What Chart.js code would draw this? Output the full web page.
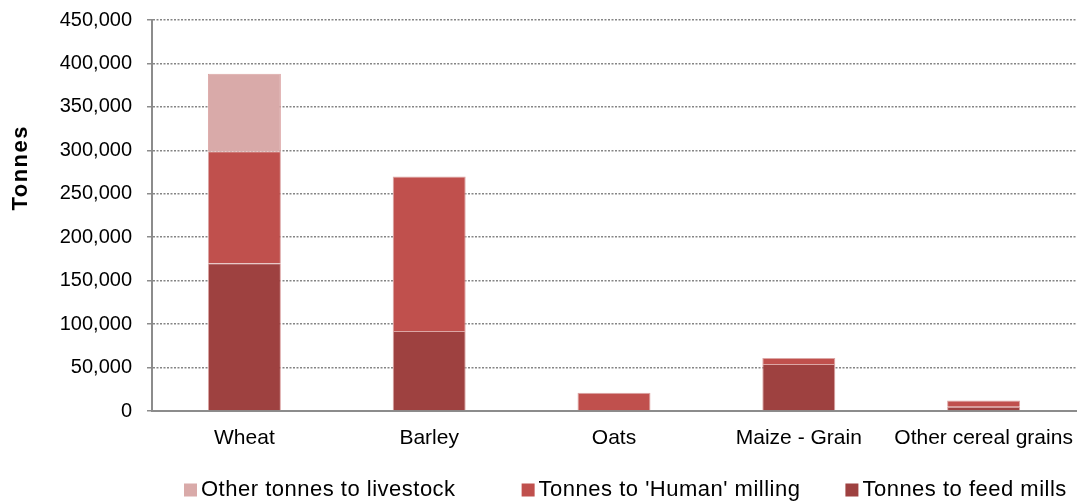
<!DOCTYPE html>
<html>
<head>
<meta charset="utf-8">
<title>Cereal grain use</title>
<script src="https://cdn.jsdelivr.net/npm/chart.js@4/dist/chart.umd.min.js"></script>
<style>
  html, body { margin: 0; padding: 0; background: #ffffff; }
  #wrap { position: relative; width: 1082px; height: 501px; }
</style>
</head>
<body>
<div id="wrap"><canvas id="grainChart"></canvas></div>
<script>
// categories and stacked series (tonnes)
var categories = ['Wheat', 'Barley', 'Oats', 'Maize - Grain', 'Other cereal grains'];
var feedMills = [170000, 92000, 0, 54000, 5000];
var humanMilling = [129000, 178000, 21000, 7000, 7000];
var otherLivestock = [89000, 0, 0, 0, 0];

// value axis
var yMin = 0;
var yMax = 450000;
var yStep = 50000;

var FONT = '"Liberation Sans", Arial, sans-serif';
var AXIS_GREY = '#8c8c8c';

// y title and the legend row are drawn by hand under the chart
var extrasPlugin = {
    id: 'extras',
    afterDraw: function(chart) {
        var ctx = chart.ctx;
        var area = chart.chartArea;

        ctx.save();
        ctx.fillStyle = '#000000';
        ctx.font = 'bold 22px ' + FONT;
        ctx.letterSpacing = '1.5px';
        ctx.textAlign = 'center';
        ctx.textBaseline = 'middle';
        ctx.translate(21, area.top + area.height * 0.378);
        ctx.rotate(-Math.PI / 2);
        ctx.fillText('Tonnes', 0, 0);
        ctx.restore();

        ctx.save();
        ctx.font = '22px ' + FONT;
        ctx.letterSpacing = '0.5px';
        ctx.textAlign = 'left';
        ctx.textBaseline = 'middle';
        var x = area.left + 32;
        var y = 490;
        var gaps = [66, 45];
        chart.data.datasets.slice().reverse().forEach(function(ds, i) {
            ctx.fillStyle = ds.backgroundColor;
            ctx.fillRect(x, y - 6.5, 13, 13);
            ctx.fillStyle = '#000000';
            ctx.fillText(ds.label, x + 17, y);
            x += 17 + ctx.measureText(ds.label).width + (gaps[i] || 0);
        });
        ctx.restore();
    }
};

// keep the plot box where the layout padding puts it
function noScalePadding(scale) {
    scale.paddingTop = 0;
    scale.paddingBottom = 0;
    scale.paddingLeft = 0;
    scale.paddingRight = 0;
}

var ctx = document.getElementById('grainChart').getContext('2d');
var grainChart = new Chart(ctx, {
    type: 'bar',
    data: {
        labels: categories,
        datasets: [
            {
                label: 'Tonnes to feed mills',
                data: feedMills,
                backgroundColor: '#9e4140',
                borderColor: '#dca6a5',
                borderWidth: 1
            },
            {
                label: "Tonnes to 'Human' milling",
                data: humanMilling,
                backgroundColor: '#c0504d',
                borderColor: '#dca6a5',
                borderWidth: 1
            },
            {
                label: 'Other tonnes to livestock',
                data: otherLivestock,
                backgroundColor: '#d9aaa9',
                borderColor: '#dca6a5',
                borderWidth: 1
            }
        ]
    },
    options: {
        responsive: true,
        maintainAspectRatio: false,
        animation: false,
        datasets: {
            bar: { barPercentage: 0.395, categoryPercentage: 1.0 }
        },
        layout: {
            padding: { left: 0, right: 6, top: 20, bottom: 48 }
        },
        plugins: {
            legend: { display: false },
            tooltip: { enabled: false }
        },
        scales: {
            x: {
                stacked: true,
                grid: { drawOnChartArea: false, drawTicks: false },
                border: { color: AXIS_GREY, width: 2 },
                ticks: {
                    color: '#000000',
                    padding: 15,
                    maxRotation: 0,
                    font: { family: FONT, size: 21 }
                },
                afterFit: function(scale) {
                    scale.height = 42;
                    noScalePadding(scale);
                }
            },
            y: {
                stacked: true,
                min: yMin,
                max: yMax,
                grid: {
                    color: '#858585',
                    lineWidth: 1.5,
                    tickLength: 5,
                    tickColor: AXIS_GREY,
                    tickWidth: 1.5
                },
                border: { color: AXIS_GREY, width: 2, dash: [2, 1.5] },
                ticks: {
                    stepSize: yStep,
                    color: '#000000',
                    padding: 15,
                    font: { family: FONT, size: 20 },
                    callback: function(v) { return v.toLocaleString('en-US'); }
                },
                afterFit: function(scale) {
                    scale.width = 152;
                    noScalePadding(scale);
                }
            }
        }
    },
    plugins: [extrasPlugin]
});
</script>
</body>
</html>
